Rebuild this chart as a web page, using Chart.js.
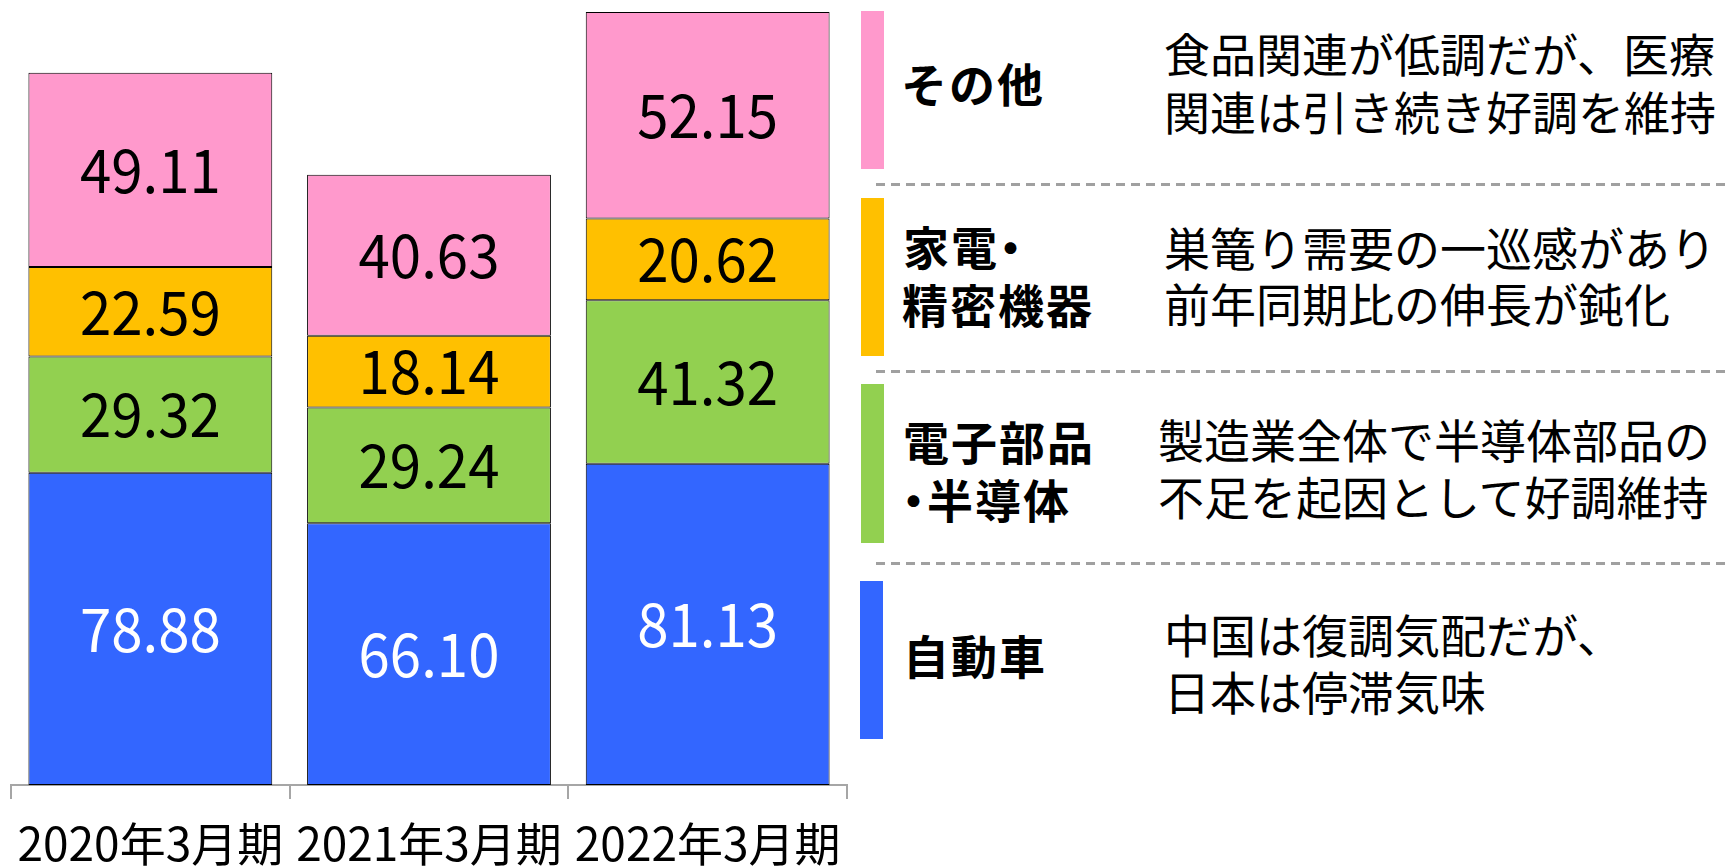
<!DOCTYPE html>
<html><head><meta charset="utf-8">
<script src="https://cdn.jsdelivr.net/npm/chart.js@4.4.1/dist/chart.umd.min.js"></script>
<style>
html,body{margin:0;padding:0;background:#fff;width:1730px;height:866px;overflow:hidden;font-family:'Noto Sans CJK JP',sans-serif;}
#wrap{position:absolute;left:0;top:0;width:860px;height:866px;}
.sw{position:absolute;width:23px;}
.dash{position:absolute;left:876px;right:0;height:3px;background:repeating-linear-gradient(to right,#a0a0a0 0 9px,transparent 9px 15px);}
.t{position:absolute;font-size:46px;line-height:46px;white-space:nowrap;color:#000;}
.b{font-weight:bold;letter-spacing:2px;}
.dot{font-feature-settings:'halt';}
</style></head>
<body>
<div id="wrap"><canvas id="c" width="860" height="866"></canvas></div>

<div class="sw" style="left:861px;top:11px;height:158px;background:#FF99CC"></div>
<div class="sw" style="left:861px;top:198px;height:158px;background:#FFC000"></div>
<div class="sw" style="left:861px;top:384px;height:159px;background:#92D050"></div>
<div class="sw" style="left:860px;top:581px;height:158px;background:#3366FF"></div>

<div class="dash" style="top:183px"></div>
<div class="dash" style="top:370px"></div>
<div class="dash" style="top:562px"></div>

<div class="t b" style="left:901px;top:59px">その他</div>
<div class="t b" style="left:903px;top:222px">家電<span class="dot">・</span></div>
<div class="t b" style="left:902px;top:280px">精密機器</div>
<div class="t b" style="left:903px;top:417px">電子部品</div>
<div class="t b" style="left:902px;top:475px"><span class="dot">・</span>半導体</div>
<div class="t b" style="left:903px;top:631px">自動車</div>

<div class="t" style="left:1164px;top:29px">食品関連が低調だが、医療</div>
<div class="t" style="left:1164px;top:87px">関連は引き続き好調を維持</div>
<div class="t" style="left:1164px;top:223px">巣篭り需要の一巡感があり</div>
<div class="t" style="left:1164px;top:279px">前年同期比の伸長が鈍化</div>
<div class="t" style="left:1158px;top:415px">製造業全体で半導体部品の</div>
<div class="t" style="left:1158px;top:472px">不足を起因として好調維持</div>
<div class="t" style="left:1164px;top:610px">中国は復調気配だが、</div>
<div class="t" style="left:1164px;top:667px">日本は停滞気味</div>

<script>
const categories = ['2020年3月期', '2021年3月期', '2022年3月期'];
const seriesNames = ['自動車', '電子部品・半導体', '家電・精密機器', 'その他'];
const automobile = [78.88, 66.10, 81.13];
const electronics = [29.32, 29.24, 41.32];
const appliances = [22.59, 18.14, 20.62];
const others = [49.11, 40.63, 52.15];
const seriesColors = ['#3366FF', '#92D050', '#FFC000', '#FF99CC'];
const valueColors = ['#FFFFFF', '#000000', '#000000', '#000000'];
const seriesValues = [automobile, electronics, appliances, others];

const FONT = "'Noto Sans CJK JP', 'Noto Sans', sans-serif";

const valueLabels = {
  id: 'valueLabels',
  afterDatasetsDraw(chart) {
    const ctx = chart.ctx;
    chart.data.datasets.forEach((ds, i) => {
      const meta = chart.getDatasetMeta(i);
      meta.data.forEach((el, j) => {
        ctx.save();
        ctx.font = "60px " + FONT;
        ctx.textAlign = 'center';
        ctx.textBaseline = 'middle';
        ctx.fillStyle = valueColors[i];
        ctx.translate(el.x, (el.y + el.base) / 2);
        ctx.scale(0.94, 1);
        ctx.fillText(ds.data[j].toFixed(2), 0, 0);
        ctx.restore();
      });
    });
  }
};

new Chart(document.getElementById('c'), {
  type: 'bar',
  data: {
    labels: categories,
    datasets: seriesValues.map((vals, i) => ({
      label: seriesNames[i],
      data: vals,
      backgroundColor: seriesColors[i],
      borderColor: '#000000',
      borderWidth: 1,
      borderSkipped: false,
      barPercentage: 0.875,
      categoryPercentage: 1
    }))
  },
  options: {
    responsive: false,
    animation: false,
    devicePixelRatio: 1,
    layout: { padding: { left: 11, right: 13, top: 1, bottom: 0 } },
    plugins: { legend: { display: false }, tooltip: { enabled: false } },
    scales: {
      x: {
        stacked: true,
        offset: true,
        afterFit: (scale) => { scale.height = 81; },
        grid: { display: true, offset: true, drawOnChartArea: false, drawTicks: true, tickLength: 14, color: '#a6a6a6', lineWidth: 2 },
        border: { display: true, color: '#a6a6a6', width: 2 },
        ticks: { color: '#000000', font: { family: FONT, size: 46, lineHeight: 1.95 }, padding: 0, maxRotation: 0, autoSkip: false }
      },
      y: { stacked: true, display: false, min: 0, max: 198 }
    }
  },
  plugins: [valueLabels]
});
</script>
</body></html>
